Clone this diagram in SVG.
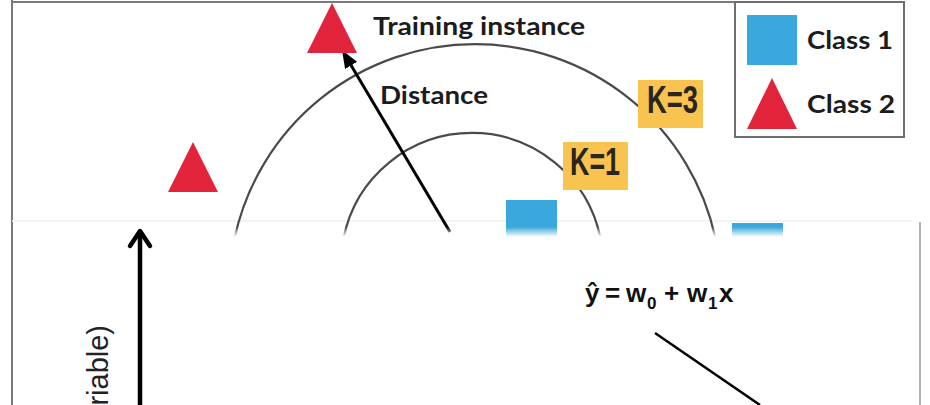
<svg xmlns="http://www.w3.org/2000/svg" width="930" height="405" viewBox="0 0 930 405">
  <style>
    .lbl { font-family: Lato, "Liberation Sans", sans-serif; font-weight: 700; fill: #1c1c1c; }
    .k { font-family: "Liberation Sans", Arial, sans-serif; font-weight: 700; font-size: 38px; fill: #2a2520; }
    .kbox { fill: #F8C34E; }
    .arc { fill: none; stroke: #4a4a4a; stroke-width: 2.2; }
    .red { fill: #E1233B; }
    .blue { fill: #3AA8DC; }
    .frame { stroke: #7a7a7a; stroke-width: 2; fill: none; }
    .eq { font-family: "Liberation Sans", Arial, sans-serif; font-weight: 700; fill: #111; }
    .ax { font-family: "Liberation Sans", Arial, sans-serif; font-size: 29px; fill: #222; }
  </style>
  <defs>
    <linearGradient id="fadeGrad" gradientUnits="userSpaceOnUse" x1="0" y1="227" x2="0" y2="237">
      <stop offset="0" stop-color="#fff"/>
      <stop offset="1" stop-color="#000"/>
    </linearGradient>
    <mask id="fade" maskUnits="userSpaceOnUse" x="0" y="0" width="930" height="405">
      <rect x="0" y="0" width="930" height="405" fill="url(#fadeGrad)"/>
    </mask>
    <marker id="head" markerUnits="userSpaceOnUse" markerWidth="18" markerHeight="14" viewBox="0 0 18 14" refX="4" refY="7" orient="auto">
      <path d="M0,0 L18,7 L0,14 z" fill="#000"/>
    </marker>
  </defs>

  <rect x="0" y="0" width="930" height="405" fill="#fff"/>

  <g id="frame">
    <line class="frame" x1="12" y1="0" x2="12" y2="405"/>
    <line class="frame" x1="12" y1="2" x2="904" y2="2"/>
    <line x1="12" y1="221" x2="912" y2="221" stroke="#efefef" stroke-width="1.5"/>
    <line x1="920" y1="222" x2="920" y2="405" stroke="#9a9a9a" stroke-width="1.5"/>
  </g>

  <g id="knn" mask="url(#fade)">
    <g id="arcs">
      <path class="arc" d="M234.6,238 A246,246 0 0 1 715.4,238"/>
      <path class="arc" d="M343.6,238 A131,131 0 0 1 600.4,238"/>
    </g>
    <g id="node-class1-a">
      <rect class="blue" x="506" y="200" width="51" height="40"/>
    </g>
    <g id="node-class1-b">
      <rect class="blue" x="732" y="223" width="51" height="17"/>
    </g>
    <g id="connectors-knn">
      <line x1="450" y1="232" x2="349.1" y2="62.0" stroke="#000" stroke-width="3" marker-end="url(#head)"/>
    </g>
  </g>

  <g id="node-training-instance">
    <polygon class="red" points="332,3 357,53 307,53"/>
    <text class="lbl" x="373" y="35" font-size="25" textLength="212" lengthAdjust="spacingAndGlyphs">Training instance</text>
  </g>

  <g id="node-class2-left">
    <polygon class="red" points="193,142 218,192 168,192"/>
  </g>

  <g id="label-distance">
    <text class="lbl" x="380" y="104" font-size="24" textLength="108" lengthAdjust="spacingAndGlyphs">Distance</text>
  </g>

  <g id="label-k3">
    <rect class="kbox" x="638" y="80" width="65" height="48"/>
    <text class="k" x="647" y="113" textLength="51" lengthAdjust="spacingAndGlyphs">K=3</text>
  </g>

  <g id="label-k1">
    <rect class="kbox" x="563" y="142" width="65" height="48"/>
    <text class="k" x="570" y="175" textLength="50" lengthAdjust="spacingAndGlyphs">K=1</text>
  </g>

  <g id="legend">
    <rect x="735" y="2" width="169" height="135" fill="#fff" stroke="#6e6e6e" stroke-width="2"/>
    <rect class="blue" x="747" y="15" width="50" height="50"/>
    <text class="lbl" x="807" y="49" font-size="24" textLength="86" lengthAdjust="spacingAndGlyphs">Class 1</text>
    <polygon class="red" points="772,78 797,129 747,129"/>
    <text class="lbl" x="807" y="113" font-size="24" textLength="88" lengthAdjust="spacingAndGlyphs">Class 2</text>
  </g>

  <g id="node-y-axis">
    <line x1="140" y1="233" x2="140" y2="405" stroke="#000" stroke-width="4.5"/>
    <path d="M130,246 L140,231 L150,246" fill="none" stroke="#000" stroke-width="4.5" stroke-linecap="round" stroke-linejoin="round"/>
    <text class="ax" transform="translate(108,325) rotate(-90)" text-anchor="end">riable)</text>
  </g>

  <g id="node-equation">
    <text class="eq" font-size="26">
      <tspan x="585" y="302">ŷ</tspan>
      <tspan x="605" y="302">=</tspan>
      <tspan x="626" y="302">w</tspan>
      <tspan x="647" y="309" font-size="17">0</tspan>
      <tspan x="664" y="302">+</tspan>
      <tspan x="687" y="302">w</tspan>
      <tspan x="708" y="309" font-size="17">1</tspan>
      <tspan x="719" y="302">x</tspan>
    </text>
  </g>

  <g id="connectors">
    <line x1="655" y1="333" x2="760" y2="405" stroke="#000" stroke-width="2.5"/>
  </g>
</svg>
